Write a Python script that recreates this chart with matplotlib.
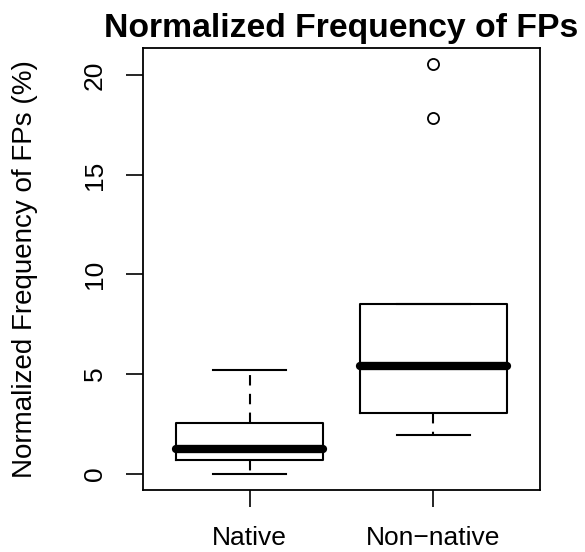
import matplotlib
matplotlib.use('Agg')
import matplotlib.pyplot as plt

plt.rcParams['font.family'] = ['Liberation Sans', 'DejaVu Sans']

# R-style boxplot summary
groups = ['Native', 'Non\u2212native']
q1 = [0.70, 3.07]
medians = [1.26, 5.40]
q3 = [2.56, 8.50]
whisker_lo = [0.0, 1.96]
whisker_hi = [5.20, 8.50]
outliers = [[], [17.85, 20.55]]

stats = []
for i in range(len(groups)):
    stats.append(dict(label=groups[i], q1=q1[i], med=medians[i], q3=q3[i],
                      whislo=whisker_lo[i], whishi=whisker_hi[i], fliers=outliers[i]))

fig = plt.figure(figsize=(5.85, 5.52), dpi=100)
ax = fig.add_axes([143 / 585, 1 - 490 / 552, 397 / 585, 442 / 552])

ax.bxp(stats, positions=[1, 2], widths=0.8,
       boxprops=dict(color='black', linewidth=1.5),
       medianprops=dict(color='black', linewidth=6, solid_capstyle='round'),
       whiskerprops=dict(color='black', linewidth=1.5, linestyle=(0, (5, 4))),
       capprops=dict(color='black', linewidth=1.5),
       flierprops=dict(marker='o', markerfacecolor='white', markeredgecolor='black',
                       markersize=8, markeredgewidth=1.3),
       capwidths=0.4)

ax.set_xlim(0.42, 2.58)
ax.set_ylim(-0.82, 21.37)
ax.set_yticks([0, 5, 10, 15, 20])
ax.set_yticklabels(['0', '5', '10', '15', '20'], rotation=90, va='center')
ax.tick_params(axis='both', direction='out', length=12, width=1.2, labelsize=19, pad=14)
for s in ax.spines.values():
    s.set_linewidth(1.3)

ax.set_ylabel('Normalized Frequency of FPs (%)', fontsize=20, va='center')
ax.yaxis.set_label_coords(-0.297, 0.5)
ax.set_title('Normalized Frequency of FPs', fontsize=24.3, fontweight='bold', pad=8)

fig.savefig('out.png', dpi=100)
